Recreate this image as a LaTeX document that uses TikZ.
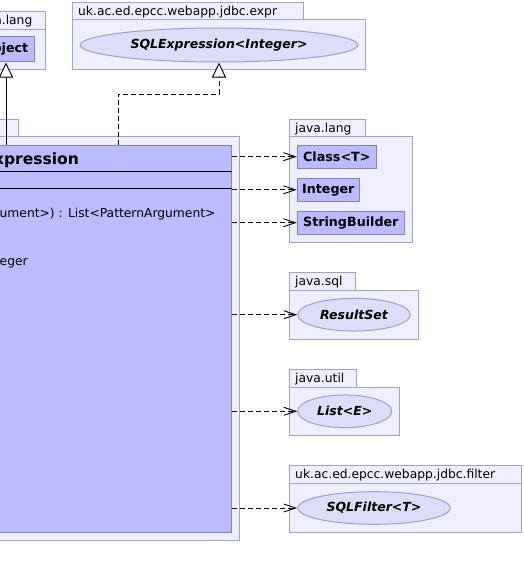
\documentclass[tikz,border=0pt]{standalone}
\usepackage{fontspec}
\setmainfont{DejaVu Sans}
\usetikzlibrary{arrows.meta,shapes.geometric,fit}
\definecolor{pkgfill}{HTML}{EEEEFF}
\definecolor{pkgdraw}{HTML}{A4A4B8}
\definecolor{clsfill}{HTML}{BBBBFF}
\definecolor{clsdraw}{HTML}{8484A8}
\definecolor{iffill}{HTML}{DDDDF8}
\definecolor{ifdraw}{HTML}{A0A0C4}
\begin{document}
\begin{tikzpicture}[x=1pt,y=-1pt,
  pkg/.style={draw=pkgdraw,fill=pkgfill,line width=1pt,rectangle,inner sep=0pt},
  pkglabel/.style={inner sep=0pt,font=\fontsize{12.3}{14}\selectfont},
  cls/.style={draw=clsdraw,fill=clsfill,line width=1pt,rectangle,inner sep=0pt,
    font=\fontsize{12.7}{14}\bfseries},
  iface/.style={draw=ifdraw,fill=iffill,line width=1pt,ellipse,inner sep=0pt,
    font=\fontsize{12.5}{14}\bfseries\itshape},
  member/.style={inner sep=0pt,font=\fontsize{12.3}{14}\selectfont},
  dep/.style={draw=black,line width=0.9pt,dash pattern=on 5pt off 3pt,
    -{Straight Barb[length=12pt,width=8pt]}},
  real/.style={draw=black,line width=0.9pt,dash pattern=on 5pt off 3pt,
    -{Triangle[open,length=15pt,width=14pt,fill=white]}},
  gen/.style={draw=black,line width=0.9pt,
    -{Triangle[open,length=15pt,width=14pt,fill=white]}},
  sep/.style={draw=black,line width=0.9pt}
]
\useasboundingbox (0,0) rectangle (524,578);
\clip (0,0) rectangle (524,578);

% top-left java.lang package
\node[pkg,fit={(-200,11.7) (45.7,29.3)}] (tltab) {};
\node[pkg,fit={(-200,29.3) (45.7,69.3)}] (tlbody) {};
\node[pkglabel,anchor=base east] (tllabel) at (32.5,24.5) {java.lang};
\node[cls,anchor=east,inner xsep=6.5pt,minimum height=25pt] (object) at (35.3,49.5) {Object};

% expr package
\node[pkg,fit={(72.3,2.7) (303.3,20)}] (extab) {};
\node[pkg,fit={(72.3,20) (365.7,69.3)}] (exbody) {};
\node[pkglabel,anchor=base west] (exlabel) at (78,15.5) {uk.ac.ed.epcc.webapp.jdbc.expr};
\node[iface,minimum width=277.7pt,minimum height=34pt] (sqlexpr) at (219,45) {SQLExpression<Integer>};

% main package
\node[pkg,fit={(-200,119) (18.3,136.7)}] (mtab) {};
\node[pkg,fit={(-200,136.7) (239.5,540)}] (mbody) {};
\node[cls,fit={(-200,145) (231.3,532.3)}] (main) {};
\node[inner sep=0pt,anchor=base east,font=\fontsize{15.5}{18}\bfseries] (mtitle) at (79,164.3) {xpression};
\coordinate (s1l) at (-200,171);
\coordinate (s2l) at (-200,188.7);
\draw[sep] (s1l) -- (s1l -| main.east);
\draw[sep] (s2l) -- (s2l -| main.east);
\node[member,anchor=base west] (m1) at (-0.5,217.7) {ument>) : List<PatternArgument>};
\node[member,anchor=base west] (m2) at (-0.5,265.7) {eger};

% java.lang package (right)
\node[pkg,fit={(289.3,119.3) (365.3,136)}] (jltab) {};
\node[pkg,fit={(289.3,136) (412.3,242.3)}] (jlbody) {};
\node[pkglabel,anchor=base west] (jllabel) at (295,132) {java.lang};
\node[cls,minimum width=79pt,minimum height=23.3pt] (classT) at (336.8,156.7) {Class<T>};
\node[cls,minimum width=62pt,minimum height=23pt] (integer) at (328.3,189.8) {Integer};
\node[cls,minimum width=107pt,minimum height=23.3pt] (sb) at (350.8,222.7) {StringBuilder};

% java.sql
\node[pkg,fit={(289.3,272.3) (355.3,290)}] (sqltab) {};
\node[pkg,fit={(289.3,290) (418.3,339)}] (sqlbody) {};
\node[pkglabel,anchor=base west] (sqllabel) at (295,285.5) {java.sql};
\node[iface,minimum width=112.6pt,minimum height=32.7pt] (rs) at (354,314.7) {ResultSet};

% java.util
\node[pkg,fit={(289.3,369) (356.7,387)}] (utab) {};
\node[pkg,fit={(289.3,387) (399.3,435)}] (ubody) {};
\node[pkglabel,anchor=base west] (ulabel) at (295,382.5) {java.util};
\node[iface,minimum width=94pt,minimum height=32.7pt] (list) at (344.7,411.3) {List<E>};

% filter package
\node[pkg,fit={(289.3,465) (521,483.3)}] (ftab) {};
\node[pkg,fit={(289.3,483.3) (521,532.3)}] (fbody) {};
\node[pkglabel,anchor=base west] (flabel) at (295,478.7) {uk.ac.ed.epcc.webapp.jdbc.filter};
\node[iface,minimum width=152.6pt,minimum height=32.6pt] (filter) at (374,508) {SQLFilter<T>};

% connectors
\coordinate (gstart) at (6,145);
\draw[gen] (gstart) -- (gstart |- object.south);
\coordinate (rstart) at (118,145);
\draw[real] (rstart) -- (118,94) -| (sqlexpr.south);
\draw[dep] (classT.west -| main.east) -- (classT.west);
\draw[dep] (integer.west -| main.east) -- (integer.west);
\draw[dep] (sb.west -| main.east) -- (sb.west);
\draw[dep] (rs.west -| main.east) -- (rs.west);
\draw[dep] (list.west -| main.east) -- (list.west);
\draw[dep] (filter.west -| main.east) -- (filter.west);
\end{tikzpicture}
\end{document}
